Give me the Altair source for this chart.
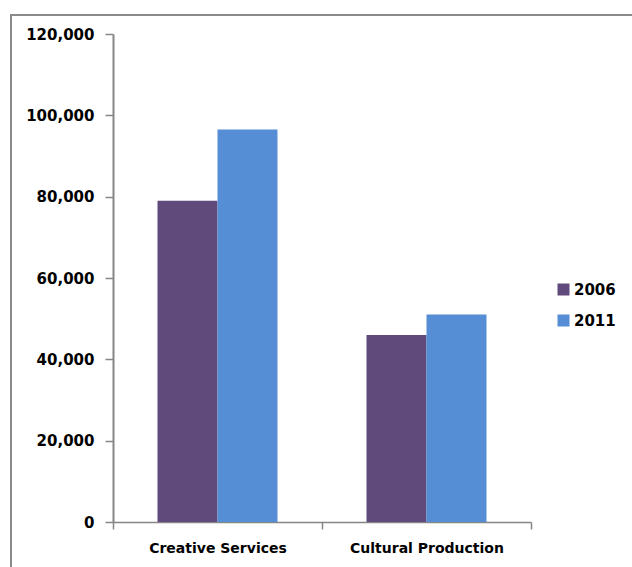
import altair as alt
import pandas as pd

categories = ["Creative Services", "Cultural Production"]
years = ["2006", "2011"]
values_2006 = [79000, 46000]
values_2011 = [96500, 51000]
colors = ["#604A7B", "#558ED5"]

rows = []
for i, c in enumerate(categories):
    rows.append({"category": c, "year": years[0], "value": values_2006[i]})
    rows.append({"category": c, "year": years[1], "value": values_2011[i]})
df = pd.DataFrame(rows)

AXIS_GRAY = "#868686"
FONT = "DejaVu Sans"

bars = alt.Chart(df).mark_bar().encode(
    x=alt.X(
        "category:N",
        sort=categories,
        title=None,
        scale=alt.Scale(paddingInner=0, paddingOuter=0),
        axis=alt.Axis(
            labelAngle=0,
            tickBand="extent",
            tickSize=7,
            tickColor=AXIS_GRAY,
            tickWidth=1.5,
            domainColor=AXIS_GRAY,
            domainWidth=1.5,
            labelFont=FONT,
            labelFontSize=14,
            labelFontWeight="bold",
            labelColor="#000000",
            labelPadding=12,
        ),
    ),
    xOffset=alt.XOffset(
        "year:N", sort=years, scale=alt.Scale(paddingInner=0, paddingOuter=0.742)
    ),
    y=alt.Y(
        "value:Q",
        title=None,
        scale=alt.Scale(domain=[0, 120000], nice=False),
        axis=alt.Axis(
            values=[0, 20000, 40000, 60000, 80000, 100000, 120000],
            format=",d",
            grid=False,
            tickSize=8,
            tickColor=AXIS_GRAY,
            tickWidth=1.5,
            domainColor=AXIS_GRAY,
            domainWidth=2,
            labelFont=FONT,
            labelFontSize=15,
            labelFontWeight="bold",
            labelColor="#000000",
            labelPadding=11,
        ),
    ),
    color=alt.Color(
        "year:N",
        sort=years,
        scale=alt.Scale(domain=years, range=colors),
        legend=alt.Legend(
            title=None,
            orient="none",
            legendX=443,
            legendY=248,
            padding=0,
            symbolType="square",
            symbolSize=144,
            symbolStrokeWidth=0,
            symbolOpacity=1,
            labelFont=FONT,
            labelFontSize=15,
            labelFontWeight="bold",
            labelColor="#000000",
            labelOffset=3,
            rowPadding=15,
        ),
    ),
)

frame = alt.Chart(pd.DataFrame({"a": [0]})).mark_rect(
    fill=None, filled=False, stroke="#8a8a8a", strokeWidth=2
).encode(
    x=alt.value(-102),
    x2=alt.value(700),
    y=alt.value(-19),
    y2=alt.value(700),
)

chart = alt.layer(frame, bars).properties(
    width=418,
    height=488,
    autosize=alt.AutoSizeParams(type="none"),
    padding={"left": 113, "top": 34, "right": 101, "bottom": 45},
    background="#ffffff",
).configure_view(stroke=None)

chart.save("out.html", embed_options={"renderer": "svg", "actions": False})
